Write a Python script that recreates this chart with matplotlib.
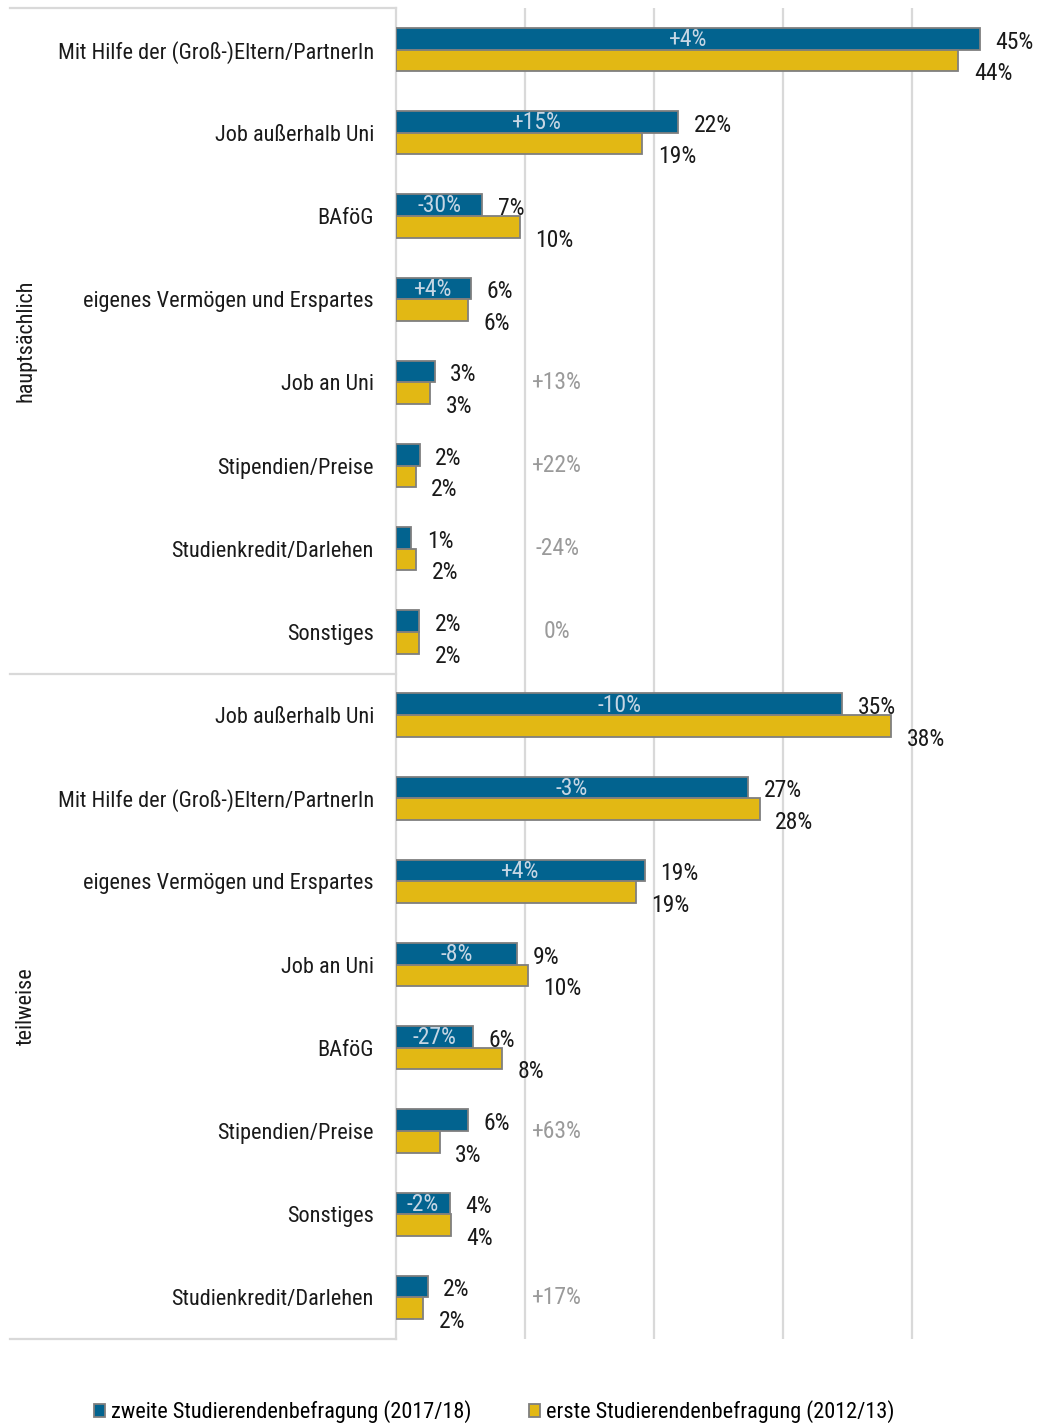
import matplotlib
matplotlib.use("Agg")
import matplotlib.pyplot as plt
from matplotlib.patches import Patch
from matplotlib.transforms import blended_transform_factory

plt.rcParams['font.family'] = ['Roboto Condensed', 'DejaVu Sans']
plt.rcParams['font.stretch'] = 'condensed'

# Finanzierungsquellen, obere Gruppe "hauptsächlich", untere Gruppe "teilweise"
categories = [
    "Mit Hilfe der (Groß-)Eltern/PartnerIn",
    "Job außerhalb Uni",
    "BAföG",
    "eigenes Vermögen und Erspartes",
    "Job an Uni",
    "Stipendien/Preise",
    "Studienkredit/Darlehen",
    "Sonstiges",
    "Job außerhalb Uni",
    "Mit Hilfe der (Groß-)Eltern/PartnerIn",
    "eigenes Vermögen und Erspartes",
    "Job an Uni",
    "BAföG",
    "Stipendien/Preise",
    "Sonstiges",
    "Studienkredit/Darlehen",
]
groups = ["hauptsächlich", "teilweise"]
group_sizes = [8, 8]

# Anteile in Prozent
zweite_2017 = [45.3, 21.9, 6.7, 5.8, 3.0, 1.85, 1.2, 1.78,
               34.6, 27.3, 19.3, 9.4, 6.0, 5.55, 4.2, 2.45]
erste_2012 = [43.6, 19.1, 9.6, 5.6, 2.65, 1.52, 1.58, 1.78,
              38.4, 28.2, 18.6, 10.2, 8.2, 3.4, 4.27, 2.1]

# relative Veränderung zwischen den Befragungen
veraenderung = ["+4%", "+15%", "-30%", "+4%", "+13%", "+22%", "-24%", "0%",
                "-10%", "-3%", "+4%", "-8%", "-27%", "+63%", "-2%", "+17%"]
# True: Beschriftung im Balken, False: grau neben den Balken
im_balken = [True, True, True, True, False, False, False, False,
             True, True, True, True, True, False, True, False]

series_names = ["zweite Studierendenbefragung (2017/18)",
                "erste Studierendenbefragung (2012/13)"]

BLUE = "#02638f"
YELLOW = "#e2b814"
EDGE = "#7f7f7f"
GRID = "#d9d9d9"
TEXT = "#1a1a1a"

W, H = 1037, 1423
fig = plt.figure(figsize=(W / 100, H / 100), dpi=100)
left_px, right_px, top_px, bottom_px = 396, 1037, 8, 1339
ax = fig.add_axes([left_px / W, 1 - bottom_px / H,
                   (right_px - left_px) / W, (bottom_px - top_px) / H])

n = len(categories)
ys = list(range(n))
bh = 0.26
ax.barh([y - bh / 2 for y in ys], zweite_2017, height=bh, color=BLUE,
        edgecolor=EDGE, linewidth=1.3, zorder=3)
ax.barh([y + bh / 2 for y in ys], erste_2012, height=bh, color=YELLOW,
        edgecolor=EDGE, linewidth=1.3, zorder=3)

ax.set_xlim(0, 49.7)
ax.set_ylim(n - 0.5, -0.5)
ax.set_xticks([10, 20, 30, 40])
ax.xaxis.grid(True, color=GRID, linewidth=1.6, zorder=0)
ax.tick_params(axis='x', length=0, labelbottom=False)
ax.set_yticks(ys)
ax.set_yticklabels(categories, fontsize=16, color=TEXT)
ax.tick_params(axis='y', length=0, pad=16)
for s in ["top", "right", "bottom"]:
    ax.spines[s].set_visible(False)
ax.spines["left"].set_color(GRID)
ax.spines["left"].set_linewidth(1.6)

# Werte an den Balken
for y, v1, v2 in zip(ys, zweite_2017, erste_2012):
    ax.text(v1 + 1.2, y - 0.09, f"{v1:.0f}%", va="center", ha="left",
            fontsize=17, color=TEXT, zorder=4)
    ax.text(v2 + 1.2, y + 0.29, f"{v2:.0f}%", va="center", ha="left",
            fontsize=17, color=TEXT, zorder=4)

# Veränderungen
for y, v1, lab, inside in zip(ys, zweite_2017, veraenderung, im_balken):
    if inside:
        ax.text(v1 / 2, y - bh / 2 + 0.01, lab, va="center", ha="center",
                fontsize=17, color="#c6d6e4", zorder=5)
    else:
        ax.text(12.5, y, lab, va="center", ha="center",
                fontsize=17, color="#9a9a9a", zorder=5)

# Gruppentrenner links der Achse
tr = blended_transform_factory(fig.transFigure, ax.transData)
bounds = [-0.5]
for g in group_sizes:
    bounds.append(bounds[-1] + g)
for b in bounds:
    ax.plot([10 / W, left_px / W], [b, b], transform=tr, color=GRID,
            linewidth=1.6, clip_on=False, zorder=1)
for gi, name in enumerate(groups):
    mid = (bounds[gi] + bounds[gi + 1]) / 2
    ax.text(26 / W, mid, name, transform=tr, rotation=90, ha="center",
            va="center", fontsize=16, color=TEXT)

handles = [Patch(facecolor=BLUE, edgecolor=EDGE, linewidth=1.3),
           Patch(facecolor=YELLOW, edgecolor=EDGE, linewidth=1.3)]
fig.legend(handles, series_names, loc="center", bbox_to_anchor=(494 / W, 1 - 1412 / H),
           ncol=2, frameon=False, fontsize=16, handlelength=0.5, handleheight=0.5,
           handletextpad=0.25, columnspacing=2.6)

fig.savefig("out.png", dpi=100)
